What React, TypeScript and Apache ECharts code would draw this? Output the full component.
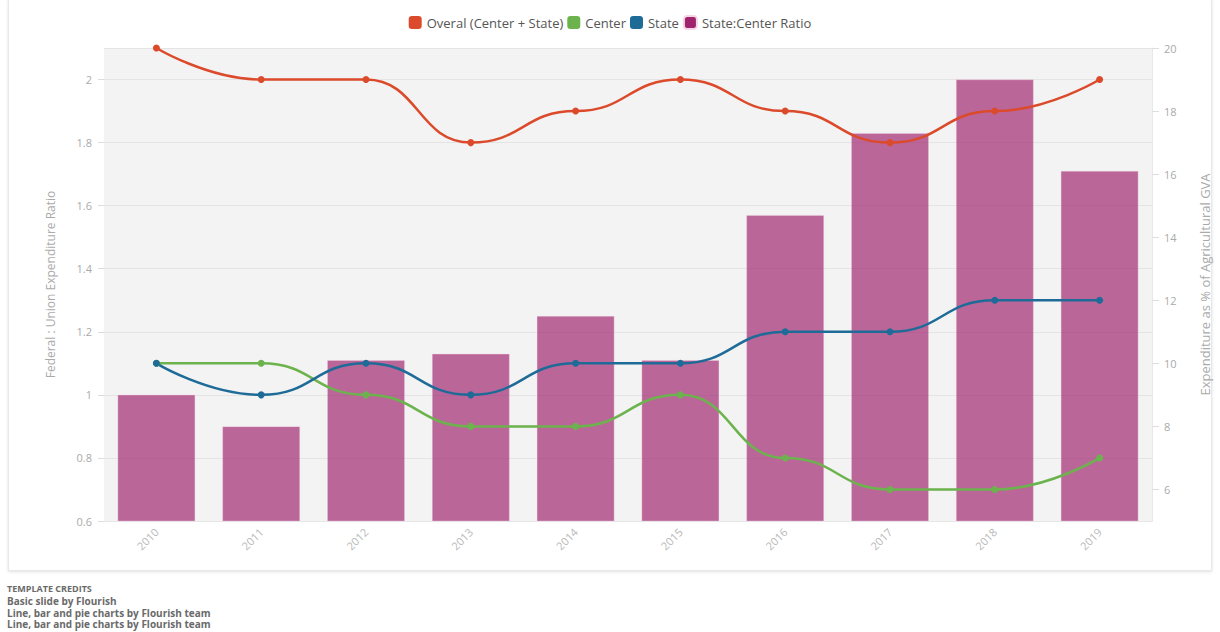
import React, { useEffect, useRef } from "react";
import * as echarts from "echarts";

const years = ["2010", "2011", "2012", "2013", "2014", "2015", "2016", "2017", "2018", "2019"];
const overall = [20, 19, 19, 17, 18, 19, 18, 17, 18, 19];
const center = [10, 10, 9, 8, 8, 9, 7, 6, 6, 7];
const state = [10, 9, 10, 9, 10, 10, 11, 11, 12, 12];
const ratio = [1.0, 0.9, 1.11, 1.13, 1.25, 1.11, 1.57, 1.83, 2.0, 1.71];

const leftName = "Federal : Union Expenditure Ratio";
const rightName = "Expenditure as % of Agricultural GVA";
const credits = [
  "TEMPLATE CREDITS",
  "Basic slide by Flourish",
  "Line, bar and pie charts by Flourish team",
  "Line, bar and pie charts by Flourish team",
];

const C_OVERALL = "#dc4a2c";
const C_CENTER = "#6cb34e";
const C_STATE = "#1e6b98";
const C_RATIO = "#a0236e";

export default function App() {
  const ref = useRef<HTMLDivElement>(null);
  useEffect(() => {
    if (!ref.current) return;
    const chart = echarts.init(ref.current, undefined, { renderer: "svg" });
    const font = "'Open Sans', sans-serif";
    const lineSeries = (name: string, data: number[], color: string) => ({
      name,
      type: "line",
      yAxisIndex: 1,
      data,
      smooth: true,
      smoothMonotone: "x",
      symbol: "circle",
      symbolSize: 7,
      lineStyle: { color, width: 2.5 },
      itemStyle: { color },
      z: 3,
    });
    chart.setOption({
      animation: false,
      textStyle: { fontFamily: font },
      legend: {
        top: 10,
        left: "center",
        icon: "roundRect",
        itemWidth: 13,
        itemHeight: 13,
        itemGap: 4,
        textStyle: { color: "#555", fontSize: 13, fontFamily: font },
        data: [
          { name: "Overal (Center + State)", itemStyle: { color: C_OVERALL } },
          { name: "Center", itemStyle: { color: C_CENTER } },
          { name: "State", itemStyle: { color: C_STATE } },
          { name: "State:Center Ratio", itemStyle: { color: C_RATIO, opacity: 1 } },
        ],
      },
      grid: {
        left: 104,
        right: 68,
        top: 48,
        bottom: 111,
        show: true,
        backgroundColor: "#f3f3f3",
        borderWidth: 0,
      },
      xAxis: {
        type: "category",
        data: years,
        boundaryGap: true,
        axisLine: { show: true, lineStyle: { color: "#e6e6e6" } },
        axisTick: { show: false },
        axisLabel: { rotate: 45, color: "#b8b8b8", fontSize: 11, margin: 9, fontFamily: font },
      },
      yAxis: [
        {
          type: "value",
          position: "left",
          min: 0.6,
          max: 2.1,
          interval: 0.2,
          axisLine: { show: false },
          axisTick: { show: true, length: 6, lineStyle: { color: "#dddddd" } },
          axisLabel: { color: "#aaaaaa", fontSize: 11, margin: 12, showMaxLabel: false, fontFamily: font },
          splitLine: { show: true, lineStyle: { color: "#e4e4e4", width: 1 } },
          name: leftName,
          nameLocation: "middle",
          nameGap: 48,
          nameTextStyle: { color: "#aaaaaa", fontSize: 12, fontFamily: font },
        },
        {
          type: "value",
          position: "right",
          min: 5,
          max: 20,
          splitNumber: 7,
          axisLine: { show: true, lineStyle: { color: "#e8e8e8" } },
          axisTick: { show: true, length: 7, lineStyle: { color: "#dddddd" } },
          axisLabel: { color: "#aaaaaa", fontSize: 11, margin: 12, showMinLabel: false, fontFamily: font },
          splitLine: { show: false },
          name: rightName,
          nameLocation: "middle",
          nameGap: 46,
          nameRotate: 90,
          nameTextStyle: { color: "#aaaaaa", fontSize: 13, fontFamily: font },
        },
      ],
      graphic: credits.map((t, i) => ({
        type: "text",
        left: 7,
        top: 584 + i * 11.8,
        style: {
          text: t,
          fill: "#6a6a6a",
          font: i === 0 ? "bold 9px 'Open Sans', sans-serif" : "bold 10px 'Open Sans', sans-serif",
        },
      })),
      series: [
        {
          name: "State:Center Ratio",
          type: "bar",
          yAxisIndex: 0,
          data: ratio,
          barCategoryGap: "26%",
          itemStyle: { color: C_RATIO, opacity: 0.68, borderColor: "#f6d6e6", borderWidth: 0.5 },
          z: 2,
        },
        lineSeries("Overal (Center + State)", overall, C_OVERALL),
        lineSeries("Center", center, C_CENTER),
        lineSeries("State", state, C_STATE),
      ],
    });
    return () => chart.dispose();
  }, []);
  return (
    <div style={{ position: "fixed", left: 0, top: 0, width: 1220, height: 632, background: "#ffffff", overflow: "hidden" }}>
      <div
        style={{
          position: "absolute",
          left: 8,
          top: -2,
          width: 1204,
          height: 573,
          background: "#ffffff",
          border: "1px solid #e8e8e8",
          boxShadow: "0 1px 3px rgba(0,0,0,0.12)",
          boxSizing: "border-box",
        }}
      />
      <div ref={ref} style={{ position: "absolute", left: 0, top: 0, width: 1220, height: 632 }} />
    </div>
  );
}
